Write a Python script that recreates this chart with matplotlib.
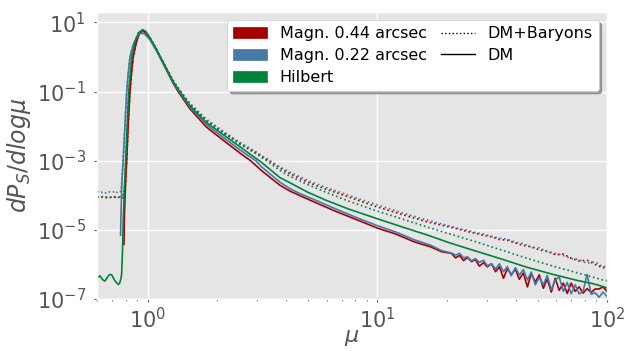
import matplotlib
matplotlib.use("Agg")
import matplotlib.pyplot as plt
from matplotlib.patches import Patch
from matplotlib.lines import Line2D
import numpy as np

plt.style.use('ggplot')

# ---------------- data (log10 of dP_S/dlog mu) ----------------
tail_mu = [21.0, 21.9, 22.8, 23.7, 24.7, 25.7, 26.7, 27.8, 29.0, 30.1,
           31.4, 32.7, 34.0, 35.4, 36.8, 38.3, 39.9, 41.5, 43.2, 45.0,
           46.8, 48.7, 50.7, 52.8, 54.9, 57.2, 59.5, 61.9, 64.5, 67.1,
           69.8, 72.7, 75.6, 78.7, 81.9, 85.3, 88.8, 92.4, 96.1, 100.0]
tail_mu_dot = [21.0, 22.8, 24.7, 26.7, 29.0, 31.4, 34.0, 36.8, 39.9, 43.2,
               46.8, 50.7, 54.9, 59.5, 64.5, 69.8, 75.6, 81.9, 88.8, 96.1, 100.0]

# Magn. 0.44 arcsec, DM (solid)
red_dm_mu = [0.786, 0.790, 0.794, 0.800, 0.808, 0.820, 0.835, 0.850, 0.863, 0.890,
             0.915, 0.944, 0.970, 1.02, 1.09, 1.186, 1.29, 1.355, 1.52, 1.80,
             2.13, 2.52, 2.80, 3.13, 3.76, 4.16, 4.59, 5.5, 6.5, 8.0,
             10.0, 12.0, 14.5, 17.0, 19.0] + tail_mu
red_dm_log = [-5.42, -4.60, -4.14, -3.55, -3.00, -2.00, -1.00, -0.40, 0.00, 0.42,
              0.66, 0.77, 0.72, 0.53, 0.19, -0.29, -0.77, -1.00, -1.49, -2.03,
              -2.41, -2.78, -3.00, -3.29, -3.71, -3.88, -4.01, -4.24, -4.45, -4.69,
              -4.95, -5.12, -5.35, -5.49, -5.63] + \
             [-5.68, -5.81, -5.74, -5.89, -5.80, -5.92, -5.86, -6.05, -5.95, -6.07,
              -5.98, -6.21, -6.07, -6.40, -6.12, -6.29, -6.14, -6.43, -6.25, -6.65,
              -6.26, -6.51, -6.30, -6.69, -6.42, -6.80, -6.40, -6.75, -6.54, -6.84,
              -6.54, -6.78, -6.65, -6.83, -6.70, -6.81, -6.71, -6.71, -6.65, -6.78]

# Magn. 0.22 arcsec, DM (solid)
blue_dm_mu = [0.760, 0.765, 0.770, 0.780, 0.794, 0.808, 0.820, 0.835, 0.860, 0.890,
              0.915, 0.944, 0.970, 1.02, 1.09, 1.186, 1.29, 1.355, 1.52, 1.80,
              2.13, 2.52, 2.95, 3.13, 3.76, 4.16, 4.59, 5.5, 6.5, 8.0,
              10.0, 12.0, 14.5, 17.0, 19.0] + tail_mu
blue_dm_log = [-5.16, -4.30, -3.60, -3.00, -2.00, -1.00, -0.50, 0.00, 0.33, 0.55,
               0.66, 0.69, 0.66, 0.50, 0.18, -0.28, -0.74, -0.96, -1.44, -1.96,
               -2.33, -2.69, -3.00, -3.18, -3.62, -3.81, -3.95, -4.17, -4.38, -4.63,
               -4.88, -5.06, -5.29, -5.44, -5.60] + \
              [-5.67, -5.73, -5.68, -5.81, -5.78, -5.90, -5.83, -5.94, -5.88, -6.04,
               -5.98, -6.13, -5.98, -6.21, -6.06, -6.33, -6.09, -6.31, -6.15, -6.45,
               -6.22, -6.59, -6.38, -6.59, -6.32, -6.73, -6.46, -6.36, -6.78, -6.52,
               -6.85, -6.59, -6.85, -6.77, -6.29, -6.86, -6.82, -6.95, -6.80, -6.93]

# Hilbert, DM (solid)
green_dm_mu = [0.598, 0.608, 0.618, 0.628, 0.640, 0.650, 0.662, 0.672, 0.684, 0.695,
               0.705, 0.715, 0.728, 0.743, 0.752, 0.760, 0.768, 0.775, 0.782, 0.790,
               0.800, 0.812, 0.825, 0.850, 0.880, 0.910, 0.950, 0.980, 1.02, 1.09,
               1.186, 1.29, 1.355, 1.52, 1.80, 2.13, 2.52, 3.13, 3.76, 4.16,
               5.0, 6.0, 7.5, 10.0, 13.0, 16.5, 20.7, 27.0, 34.2, 44.7,
               58.3, 75.0, 86.0, 96.0, 100.0]
green_dm_log = [-6.41, -6.36, -6.33, -6.40, -6.46, -6.48, -6.40, -6.33, -6.29, -6.30,
                -6.38, -6.45, -6.52, -6.58, -6.55, -6.45, -6.30, -5.60, -4.60, -3.80,
                -3.00, -2.00, -1.00, 0.00, 0.45, 0.70, 0.79, 0.73, 0.56, 0.22,
                -0.25, -0.72, -0.94, -1.40, -1.90, -2.25, -2.60, -3.05, -3.49, -3.64,
                -3.92, -4.15, -4.40, -4.68, -4.93, -5.15, -5.38, -5.62, -5.83, -6.08,
                -6.29, -6.47, -6.55, -6.64, -6.68]

# DM+Baryons (dotted)
flat_mu = [0.60, 0.62, 0.64, 0.66, 0.68, 0.70, 0.72, 0.74]
blue_bar_mu = flat_mu + [0.756, 0.763, 0.772, 0.780, 0.794, 0.808, 0.820, 0.835, 0.860, 0.890,
                         0.915, 0.944, 0.970, 1.02, 1.09, 1.186, 1.29, 1.355, 1.52, 1.80,
                         2.13, 2.52, 3.0, 3.4, 3.76, 4.16, 5.0, 6.0, 7.5, 10.0,
                         13.0, 16.5] + tail_mu_dot
blue_bar_log = [-3.88, -3.93, -3.89, -3.95, -3.90, -3.92, -3.87, -3.94] + \
               [-3.90, -3.88, -3.50, -3.00, -2.00, -1.00, -0.50, 0.00, 0.33, 0.55,
                0.66, 0.69, 0.66, 0.51, 0.19, -0.25, -0.68, -0.89, -1.33, -1.80,
                -2.15, -2.47, -2.77, -3.00, -3.18, -3.33, -3.58, -3.78, -4.00, -4.28,
                -4.52, -4.72] + \
               [-4.90, -4.97, -5.01, -5.08, -5.12, -5.19, -5.24, -5.27, -5.36, -5.40,
                -5.50, -5.52, -5.63, -5.68, -5.74, -5.83, -5.86, -5.97, -5.92, -6.08, -6.02]

red_bar_mu = flat_mu + [0.760, 0.775, 0.786, 0.797, 0.808, 0.820, 0.835, 0.850, 0.863, 0.890,
                        0.915, 0.944, 0.970, 1.02, 1.09, 1.186, 1.29, 1.355, 1.52, 1.80,
                        2.13, 2.52, 3.0, 3.4, 3.76, 4.16, 5.0, 6.0, 7.5, 10.0,
                        13.0, 16.5] + tail_mu_dot
red_bar_log = [-4.04, -4.06, -4.03, -4.07, -4.05, -4.08, -4.04, -4.06] + \
              [-4.05, -4.07, -4.06, -3.80, -3.00, -2.00, -1.00, -0.40, 0.00, 0.42,
               0.66, 0.77, 0.72, 0.54, 0.21, -0.26, -0.70, -0.91, -1.36, -1.84,
               -2.18, -2.50, -2.80, -3.02, -3.21, -3.38, -3.63, -3.83, -4.05, -4.34,
               -4.57, -4.77] + \
              [-4.93, -4.99, -5.05, -5.10, -5.16, -5.20, -5.28, -5.30, -5.38, -5.45,
               -5.49, -5.58, -5.62, -5.72, -5.70, -5.82, -5.90, -5.88, -6.00, -6.10, -6.05]

green_bar_mu = flat_mu + [0.760, 0.775, 0.790, 0.800, 0.812, 0.825, 0.850, 0.880, 0.910, 0.950,
                          0.980, 1.02, 1.09, 1.186, 1.29, 1.355, 1.52, 1.80, 2.13, 2.52,
                          3.0, 3.76, 4.16, 5.0, 6.0, 7.5, 10.0, 13.0, 16.5, 20.7,
                          27.0, 34.2, 44.7, 58.3, 75.0, 96.0, 100.0]
green_bar_log = [-4.05, -4.05, -4.06, -4.05, -4.06, -4.05, -4.06, -4.05] + \
                [-4.05, -4.05, -3.80, -3.00, -2.00, -1.00, 0.00, 0.45, 0.70, 0.79,
                 0.73, 0.57, 0.24, -0.24, -0.70, -0.92, -1.37, -1.85, -2.20, -2.53,
                 -2.82, -3.28, -3.45, -3.70, -3.92, -4.17, -4.46, -4.70, -4.92, -5.12,
                 -5.35, -5.57, -5.82, -6.05, -6.25, -6.45, -6.47]

labels_color = ['Magn. 0.44 arcsec', 'Magn. 0.22 arcsec', 'Hilbert']
labels_style = ['DM+Baryons', 'DM']

RED = '#a50000'
BLUE = '#4878a8'
GREEN = '#00843c'

# ---------------- plot ----------------
fig = plt.figure(figsize=(6.27, 3.51), dpi=100)
ax = fig.add_axes([97/627, 52/351, 510/627, 287/351])

lw = 1.2
ax.plot(red_bar_mu, 10**np.array(red_bar_log), ':', color=RED, lw=lw)
ax.plot(blue_bar_mu, 10**np.array(blue_bar_log), ':', color=BLUE, lw=lw)
ax.plot(green_bar_mu, 10**np.array(green_bar_log), ':', color=GREEN, lw=lw)
ax.plot(red_dm_mu, 10**np.array(red_dm_log), '-', color=RED, lw=lw)
ax.plot(blue_dm_mu, 10**np.array(blue_dm_log), '-', color=BLUE, lw=lw)
ax.plot(green_dm_mu, 10**np.array(green_dm_log), '-', color=GREEN, lw=lw)

ax.set_xscale('log')
ax.set_yscale('log')
ax.set_xlim(0.6, 100)
ax.set_ylim(1e-7, 2e1)
ax.set_yticks([1e1, 1e-1, 1e-3, 1e-5, 1e-7])
ax.yaxis.set_minor_locator(matplotlib.ticker.NullLocator())
ax.tick_params(axis='both', which='major', labelsize=15, colors='#555555')
ax.tick_params(axis='y', which='major', pad=6, length=2)
ax.tick_params(axis='x', which='major', pad=4, length=2)
ax.tick_params(axis='x', which='minor', length=1.5)
ax.grid(True, which='major', color='white', lw=1.0)
ax.grid(False, which='minor')

ax.set_xlabel(r'$\mu$', fontsize=16, color='#555555', labelpad=-3)
ax.set_ylabel(r'$dP_S/dlog\mu$', fontsize=17, color='#555555', labelpad=3)

handles = [Patch(facecolor=RED, edgecolor=RED),
           Patch(facecolor=BLUE, edgecolor=BLUE),
           Patch(facecolor=GREEN, edgecolor=GREEN),
           Line2D([], [], color='black', ls=':', lw=1.0),
           Line2D([], [], color='black', ls='-', lw=1.0)]
leg = ax.legend(handles, labels_color + labels_style, loc='upper right', ncol=2,
                fontsize=11.5, shadow=True, fancybox=True, framealpha=1.0,
                facecolor='white', edgecolor='#cccccc', columnspacing=0.9,
                handlelength=2.1, labelspacing=0.42, borderaxespad=0.5)

fig.savefig('out.png', dpi=100)
